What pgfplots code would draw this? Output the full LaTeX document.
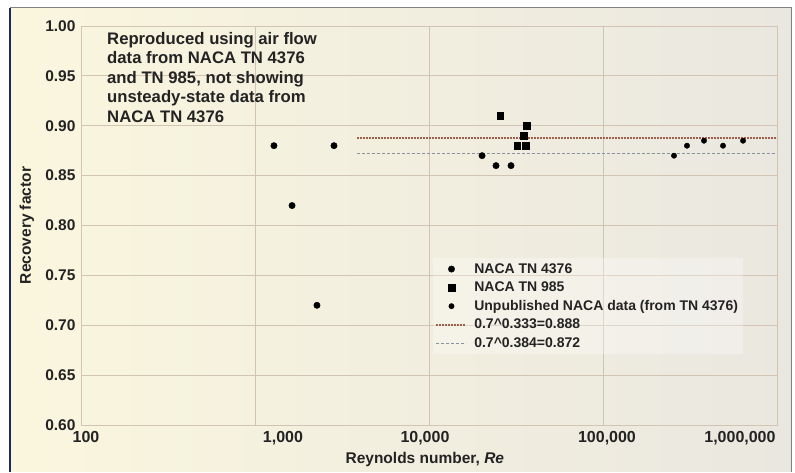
\documentclass[border=0pt]{standalone}
\usepackage{pgfplots}
\pgfplotsset{compat=1.18}
\usepackage{fontspec}
\setmainfont{Liberation Sans}
\definecolor{bgL}{RGB}{250,246,222}
\definecolor{bgR}{RGB}{234,231,224}
\definecolor{gridc}{RGB}{210,195,178}
\definecolor{txt}{RGB}{35,35,35}
\definecolor{lineA}{RGB}{160,95,75}
\definecolor{lineB}{RGB}{135,145,160}
\definecolor{navy}{RGB}{30,40,90}
\begin{document}
\begin{tikzpicture}[x=1pt,y=1pt]
\fill[white] (0,0) rectangle (795,472);
\shade[left color=bgL, right color=bgR] (10,0) rectangle (791,464);
\draw[navy, line width=1.2] (10,0)--(10,464);
\draw[gray, line width=1] (10,464)--(791,464)--(791,0);
\begin{axis}[
  at={(81pt,47pt)}, anchor=south west, scale only axis,
  width=696pt, height=399pt,
  xmode=log, xmin=100, xmax=1000000, ymin=0.6, ymax=1.0,
  axis line style={gridc, line width=0.8pt},
  grid=major, major grid style={gridc, line width=0.8pt},
  xtick={100,1000,10000,100000,1000000}, xticklabels={},
  extra x ticks={106.8,1448,9480,105400,612400},
  extra x tick labels={100,{1,000},{10,000},{100,000},{1,000,000}},
  extra x tick style={grid=none},
  ytick={0.6,0.65,0.7,0.75,0.8,0.85,0.9,0.95,1.0},
  yticklabel style={xshift=-2pt, font=\fontsize{15.5}{18}\selectfont\bfseries, /pgf/number format/fixed, /pgf/number format/fixed zerofill, /pgf/number format/precision=2},
  /pgf/number format/assume math mode=true,
  tick style={draw=none},
  ticklabel style={text=txt},
  xticklabel style={yshift=-3pt, font=\fontsize{16}{18}\selectfont\bfseries},
  xlabel={Reynolds number, \textit{Re}},
  ylabel={Recovery factor},
  every axis x label/.style={at={(axis description cs:0.494,-0.0877)}, anchor=center, font=\fontsize{15.5}{18}\selectfont\bfseries, text=txt},
  every axis y label/.style={at={(axis description cs:-0.0776,0.5)}, rotate=90, anchor=center, font=\fontsize{15.5}{18}\selectfont\bfseries, text=txt},
  legend image code/.code={\draw[mark repeat=2,mark phase=2,opacity=1,#1] plot coordinates {(0pt,0pt) (15pt,0pt) (30pt,0pt)};},
  legend style={at={(axis description cs:0.505,0.418)}, anchor=north west, draw=none,
    fill=white, fill opacity=0.3, text opacity=1, column sep=5pt,
    font=\fontsize{14}{15}\selectfont\bfseries, text=txt, row sep=3.2pt, inner sep=3pt},
  legend cell align=left,
]
\addplot[only marks, mark=*, mark size=3.2pt, black] coordinates {
  (1285,0.88) (2844,0.88) (1633,0.82) (2270,0.72)
  (20180,0.87) (24270,0.86) (29600,0.86)};
\addlegendentry{NACA TN 4376}
\addplot[only marks, mark=square*, mark size=3.3pt, black] coordinates {
  (25590,0.91) (36560,0.90) (35150,0.89) (32050,0.88) (36080,0.88)};
\addlegendentry{NACA TN 985}
\addplot[only marks, mark=*, mark size=2.7pt, black] coordinates {
  (255900,0.87) (303900,0.88) (380500,0.885) (489500,0.88) (638000,0.885)};
\addlegendentry{Unpublished NACA data (from TN 4376)}
\addplot[lineA, dash pattern=on 2pt off 1pt, line width=1.6pt] coordinates {(3850,0.888) (1000000,0.888)};
\addlegendentry{0.7\textasciicircum0.333=0.888}
\addplot[lineB, dash pattern=on 3pt off 2pt, line width=1.3pt] coordinates {(3850,0.872) (1000000,0.872)};
\addlegendentry{0.7\textasciicircum0.384=0.872}
\end{axis}
\node[anchor=north west, align=left, text=txt, font=\fontsize{16.7}{19.5}\selectfont\bfseries, inner sep=0pt] at (107,440)
  {Reproduced using air flow\\data from NACA TN 4376\\and TN 985, not showing\\unsteady-state data from\\NACA TN 4376};
\end{tikzpicture}
\end{document}
